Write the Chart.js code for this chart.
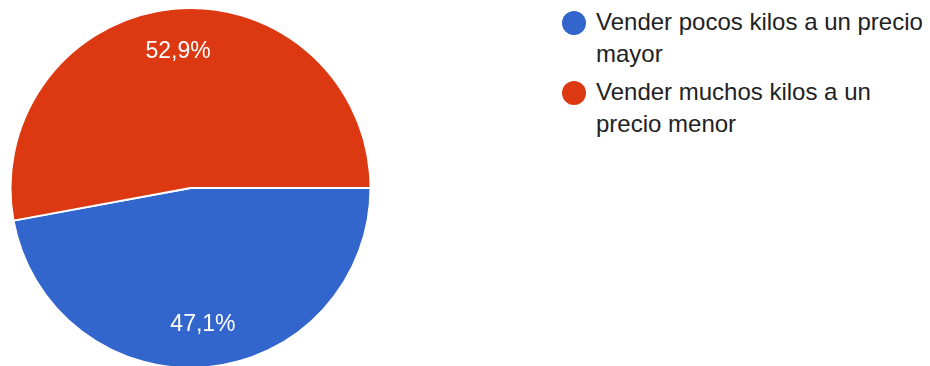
<!DOCTYPE html>
<html>
<head>
<meta charset="utf-8">
<script src="https://cdn.jsdelivr.net/npm/chart.js@4.4.1/dist/chart.umd.min.js"></script>
<style>
  html, body { margin: 0; padding: 0; background: #fff; }
  body { width: 930px; height: 366px; overflow: hidden; position: relative; }
  #pie-wrap { position: absolute; left: 0; top: 0; width: 381px; height: 376px; }
  #legend { position: absolute; left: 562px; top: 6px; width: 368px;
            font-family: "Liberation Sans", Arial, sans-serif; font-size: 24px;
            line-height: 32px; color: #222; }
  .legend-item { display: flex; align-items: flex-start; margin-bottom: 6px; }
  .legend-dot { flex: 0 0 24px; width: 24px; height: 24px; border-radius: 50%; margin-top: 5px; margin-right: 10px; }
</style>
</head>
<body>
<div id="pie-wrap"><canvas id="chart-pie"></canvas></div>
<div id="legend"></div>
<script>
const categories = ['Vender pocos kilos a un precio mayor', 'Vender muchos kilos a un precio menor'];
const percentages = [47.1, 52.9];
const sliceColors = ['#3366cc', '#dc3912'];

function formatPercent(v) {
    return v.toFixed(1).replace('.', ',') + '%';
}

// writes the percentage inside each slice
const sliceLabels = {
    id: 'sliceLabels',
    afterDatasetsDraw(chart) {
        const ctx = chart.ctx;
        const meta = chart.getDatasetMeta(0);
        ctx.save();
        ctx.fillStyle = '#ffffff';
        ctx.font = '23px "Liberation Sans", Arial, sans-serif';
        ctx.textAlign = 'center';
        ctx.textBaseline = 'middle';
        meta.data.forEach(function (arc, i) {
            const p = arc.getProps(['x', 'y', 'startAngle', 'endAngle', 'outerRadius'], true);
            const mid = (p.startAngle + p.endAngle) / 2;
            const r = p.outerRadius * 0.76;
            ctx.fillText(formatPercent(percentages[i]), p.x + Math.cos(mid) * r, p.y + Math.sin(mid) * r);
        });
        ctx.restore();
    }
};

function drawLegend() {
    let html = '';
    categories.forEach(function (label, i) {
        html += '<div class="legend-item"><span class="legend-dot" style="background:' + sliceColors[i] + '"></span>' +
                '<span class="legend-text">' + label + '</span></div>';
    });
    document.getElementById('legend').innerHTML = html;
}

function drawPie(id) {
    var ctx = document.getElementById(id);
    return new Chart(ctx, {
        type: 'pie',
        data: {
            labels: categories,
            datasets: [{
                data: percentages,
                backgroundColor: sliceColors,
                borderColor: '#ffffff',
                borderWidth: 2,
                radius: 180
            }]
        },
        options: {
            responsive: true,
            maintainAspectRatio: false,
            animation: false,
            rotation: 90,
            plugins: {
                legend: { display: false },
                tooltip: { enabled: false }
            }
        },
        plugins: [sliceLabels]
    });
}

drawLegend();
drawPie('chart-pie');
</script>
</body>
</html>
